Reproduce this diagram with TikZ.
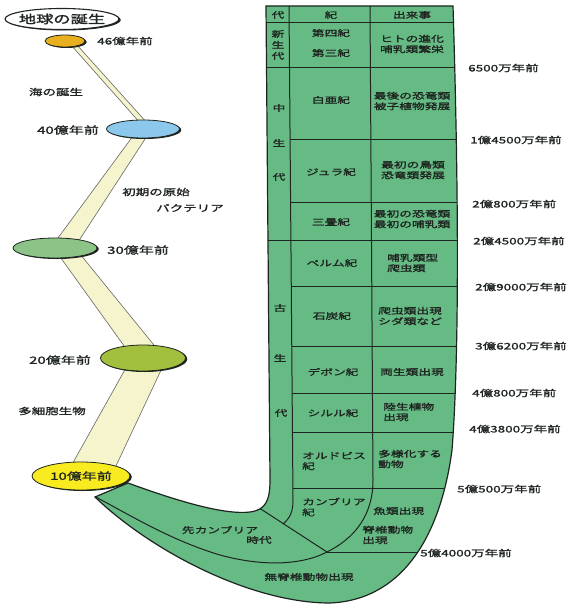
\documentclass[tikz,border=0pt]{standalone}
\usepackage{fontspec}
\setmainfont{Noto Sans CJK JP}[FakeStretch=1.5,FakeBold=1.5]
\usetikzlibrary{shapes.geometric,shadows}
\definecolor{ink}{RGB}{30,36,32}
\definecolor{tablegreen}{RGB}{102,187,132}
\definecolor{paleyel}{RGB}{246,244,204}
\definecolor{gold}{RGB}{232,176,30}
\definecolor{skyblue}{RGB}{140,200,235}
\definecolor{leafgreen}{RGB}{140,196,135}
\definecolor{olive}{RGB}{162,192,62}
\definecolor{lemon}{RGB}{248,236,32}
\tikzset{
  lab/.style={inner sep=0pt, text=ink, font=\fontsize{9}{10.5}\selectfont},
  biglab/.style={inner sep=0pt, text=ink, font=\fontsize{10}{11}\selectfont},
  cell/.style={inner sep=0pt, text=ink, font=\fontsize{8.5}{10.5}\selectfont, align=center},
  cellL/.style={cell, anchor=west, align=left},
  blob/.style={ellipse, inner sep=0pt, draw=ink, line width=0.8pt,
    drop shadow={shadow xshift=1.8pt, shadow yshift=-1pt, opacity=1, fill=ink}},
  band/.style={fill=paleyel, draw=black!60, line width=0.6pt},
  rule/.style={draw=ink, line width=1pt},
  border/.style={draw=ink, line width=1.2pt},
}
\begin{document}
\begin{tikzpicture}[x=1pt,y=-1pt]
\useasboundingbox (0,0) rectangle (582,604);
\fill[white] (0,0) rectangle (582,604);

% bands between the ellipses
\path[band] (71,45) -- (77,45) -- (148,124) -- (141,124) -- cycle;
\path[band] (133,136) -- (147,136) -- (78,242) -- (55,242) -- cycle;
\path[band] (58,254) -- (80,254) -- (158,350) -- (127,350) -- cycle;
\path[band] (127,366) -- (163,366) -- (115,468) -- (70,468) -- cycle;

% green table shape
\fill[tablegreen] (266,6) -- (453,6) .. controls (459,200) and (459,360) .. (452,450)
  .. controls (440,540) and (400,600) .. (330,603)
  .. controls (250,603) and (150,550) .. (95,497) -- (128,483)
  .. controls (180,502) and (225,515) .. (250,512)
  .. controls (266,510) and (270,500) .. (270,480) -- cycle;

\begin{scope}
\clip (266,6) -- (453,6) .. controls (459,200) and (459,360) .. (452,450)
  .. controls (440,540) and (400,600) .. (330,603)
  .. controls (250,603) and (150,550) .. (95,497) -- (128,483)
  .. controls (180,502) and (225,515) .. (250,512)
  .. controls (266,510) and (270,500) .. (270,480) -- cycle;
% full-width rules
\draw[rule] (255,23) -- (470,23);
\draw[rule] (255,68) -- (470,68);
\draw[rule] (255,240) -- (470,240);
% column rules
\draw[rule] (289,6) -- (293,500) .. controls (293,512) and (290,518) .. (283,524);
\draw[rule] (370,6) -- (373,480) .. controls (373,515) and (355,538) .. (327,552)
  .. controls (300,566) and (260,566) .. (220,555)
  .. controls (170,540) and (130,515) .. (92,495);
\draw[rule] (250,502) -- (327,552);
% period rules
\draw[rule] (290,140) -- (470,140);
\draw[rule] (290.6,202) -- (470,202);
\draw[rule] (291.3,286) -- (470,286);
\draw[rule] (291.8,346) -- (470,346);
\draw[rule] (292.1,393) -- (470,393);
\draw[rule] (292.4,432) -- (470,432);
\draw[rule] (292.9,488) -- (470,488);
\draw[rule] (327,552) -- (470,552);
\end{scope}

\draw[border] (266,6) -- (453,6) .. controls (459,200) and (459,360) .. (452,450)
  .. controls (440,540) and (400,600) .. (330,603)
  .. controls (250,603) and (150,550) .. (95,497) -- (128,483)
  .. controls (180,502) and (225,515) .. (250,512)
  .. controls (266,510) and (270,500) .. (270,480) -- cycle;

% ellipses
\node[blob, fill=white, line width=1.1pt, minimum width=114pt, minimum height=21pt] (earth) at (62,19) {};
\node[lab, font=\fontsize{11.5}{12}\selectfont] (earthtxt) at (earth.center) {地球の誕生};
\node[blob, fill=gold, minimum width=40pt, minimum height=12pt] (e46) at (65,41) {};
\node[blob, fill=skyblue, minimum width=73pt, minimum height=18pt] (e40) at (143,129) {};
\node[blob, fill=leafgreen, minimum width=84pt, minimum height=20pt] (e30) at (55,248) {};
\node[blob, fill=olive, minimum width=85pt, minimum height=26pt] (e20) at (143,358) {};
\node[blob, fill=lemon, minimum width=98pt, minimum height=28pt] (e10) at (81,476) {};

% left labels
\node[lab, anchor=west] (t46) at (97,41) {46億年前};
\node[lab] (umi) at (56,92) {海の誕生};
\node[biglab, anchor=east] (t40) at (99,130) {40億年前};
\node[lab] (bac1) at (156,192) {初期の原始};
\node[lab] (bac2) at (190,208) {バクテリア};
\node[biglab, anchor=west] (t30) at (107,250) {30億年前};
\node[biglab, anchor=east] (t20) at (91,360) {20億年前};
\node[lab] (multi) at (52,411) {多細胞生物};
\node[biglab] (t10) at (e10.center) {10億年前};

% table header
\node[cell] (hdai) at (278,15) {代};
\node[cell] (hki) at (331,15) {紀};
\node[cell] (hdeki) at (412,15) {出来事};

% era column
\node[cell, font=\fontsize{8.5}{11}\selectfont] (shinsei) at (278,45) {新\\生\\代};
\node[cell] (chu1) at (279,108) {中};
\node[cell] (chu2) at (279,143) {生};
\node[cell] (chu3) at (279,177) {代};
\node[cell] (ko1) at (280,308) {古};
\node[cell] (ko2) at (280,358) {生};
\node[cell] (ko3) at (281,413) {代};

% period column
\node[cell] (p4) at (331,33) {第四紀};
\node[cell] (p3) at (331,53) {第三紀};
\node[cell] (kri) at (331,100) {白亜紀};
\node[cell] (jur) at (331,172) {ジュラ紀};
\node[cell] (tri) at (331,222) {三畳紀};
\node[cell] (per) at (332,263) {ペルム紀};
\node[cell] (car) at (332,316) {石炭紀};
\node[cell] (dev) at (333,372) {デボン紀};
\node[cell] (sil) at (333,413) {シルル紀};
\node[cellL] (ord) at (302,461) {オルドビス\\紀};
\node[cellL] (cam) at (302,507) {カンブリア\\紀};

% events column
\node[cell] (ev1) at (412,44) {ヒトの進化\\哺乳類繁栄};
\node[cell] (ev2) at (412,101) {最後の恐竜類\\被子植物発展};
\node[cell] (ev3) at (413,170) {最初の鳥類\\恐竜類発展};
\node[cell] (ev4) at (412,219) {最初の恐竜類\\最初の哺乳類};
\node[cellL] (ev5) at (387,263) {哺乳類型\\爬虫類};
\node[cellL] (ev6) at (378,316) {爬虫類出現\\シダ類など};
\node[cell] (ev7) at (412,372) {両生類出現};
\node[cellL] (ev8) at (383,412) {陸生植物\\出現};
\node[cellL] (ev9) at (378,459) {多様化する\\動物};
\node[cellL] (ev10) at (373,511) {魚類出現};
\node[cellL] (ev11) at (362,535) {脊椎動物\\出現};

% precambrian
\node[cell] (pre1) at (220,530) {先カンブリア};
\node[cell] (pre2) at (259,540) {時代};
\node[cell] (inv) at (309,577) {無脊椎動物出現};

% right labels
\node[lab, anchor=west] (r1) at (468,68) {6500万年前};
\node[lab, anchor=west] (r2) at (470,140) {1億4500万年前};
\node[lab, anchor=west] (r3) at (472,204) {2億800万年前};
\node[lab, anchor=west] (r4) at (473,241) {2億4500万年前};
\node[lab, anchor=west] (r5) at (475,287) {2億9000万年前};
\node[lab, anchor=west] (r6) at (475,346) {3億6200万年前};
\node[lab, anchor=west] (r7) at (472,393) {4億800万年前};
\node[lab, anchor=west] (r8) at (469,429) {4億3800万年前};
\node[lab, anchor=west] (r9) at (457,489) {5億500万年前};
\node[lab, anchor=west] (r10) at (420,553) {5億4000万年前};
\end{tikzpicture}
\end{document}
